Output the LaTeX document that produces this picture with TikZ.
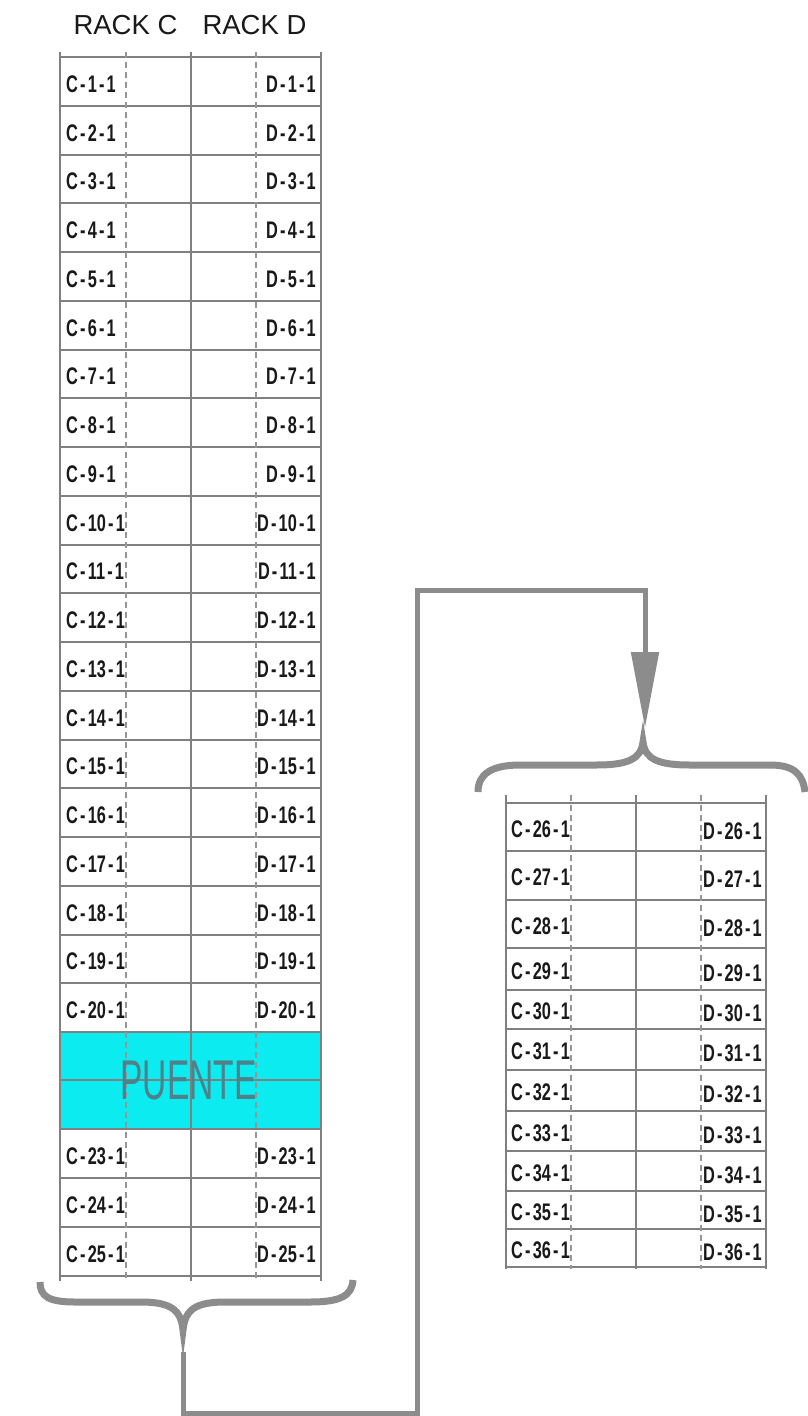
\documentclass[tikz,border=0pt]{standalone}
\usepackage{fontspec}
\setmainfont{Liberation Sans}
\newfontfamily\cellfont[FakeStretch=0.68]{Liberation Sans}
\newfontfamily\puentefont[FakeStretch=0.6]{Liberation Sans}
\usetikzlibrary{arrows.meta}
\definecolor{gridgray}{RGB}{128,128,128}
\definecolor{dashgray}{RGB}{150,150,150}
\definecolor{bracegray}{RGB}{140,140,140}
\definecolor{puentecyan}{RGB}{12,236,240}
\definecolor{puentetext}{RGB}{80,128,138}
\definecolor{labtext}{RGB}{25,25,25}
\newcommand{\celllab}[2]{#1\kern2.2pt-\kern2.2pt#2\kern2.2pt-\kern2.2pt1}
\begin{document}
\begin{tikzpicture}[x=1pt,y=-1pt,
  gridline/.style={draw=gridgray, line width=2pt},
  dashline/.style={draw=dashgray, line width=1.2pt, dash pattern=on 6pt off 4pt},
  clab/.style={font=\cellfont\bfseries\fontsize{24}{24}\selectfont, anchor=west, inner sep=0pt, text=labtext},
  dlab/.style={clab, anchor=east},
  title/.style={font=\fontsize{27.5}{27.5}\selectfont, inner sep=0pt, text=labtext},
  bracestyle/.style={draw=bracegray, line width=7pt},
  conn/.style={draw=bracegray, line width=5pt, line join=miter}]
\useasboundingbox (0,0) rectangle (807,1416);
\fill[white] (0,0) rectangle (807,1416);

% titles
\node[title] (rackc) at (125.5,25) {RACK C};
\node[title] (rackd) at (254.5,25) {RACK D};

% ---------- left table ----------
\fill[puentecyan] (60,1032) rectangle (321,1129);
\foreach \i [evaluate=\i as \y using 57+48.75*\i] in {0,...,20}
  \draw[gridline] (60,\y) -- (321,\y);
\foreach \y in {1080,1129,1178,1227,1276}
  \draw[gridline] (60,\y) -- (321,\y);
\foreach \x in {60,191,321}
  \draw[gridline] (\x,52) -- (\x,1281);
\foreach \x in {126,256}
  \draw[dashline] (\x,52) -- (\x,1281);

\foreach \i [evaluate=\i as \y using 57+48.75*(\i-1)+27] in {1,...,20}{
  \node[clab] (c\i) at (66,\y) {\celllab{C}{\i}};
  \node[dlab] (d\i) at (316,\y) {\celllab{D}{\i}};
}
\foreach \i/\y in {23/1156.5,24/1205.5,25/1254.5}{
  \node[clab] (c\i) at (66,\y) {\celllab{C}{\i}};
  \node[dlab] (d\i) at (316,\y) {\celllab{D}{\i}};
}
\node[font=\puentefont\fontsize{56}{56}\selectfont, text=puentetext, inner sep=0pt] (puente) at (188.5,1080) {PUENTE};

% ---------- right table ----------
\foreach \y in {803,851,900,948,990,1029,1070,1111,1151,1191,1229,1267}
  \draw[gridline] (506,\y) -- (766,\y);
\foreach \x in {506,636,766}
  \draw[gridline] (\x,795) -- (\x,1269);
\foreach \x in {571,701}
  \draw[dashline] (\x,795) -- (\x,1269);
\foreach \i/\ya/\yb in {26/803/851,27/851/900,28/900/948,29/948/990,30/990/1029,31/1029/1070,32/1070/1111,33/1111/1151,34/1151/1191,35/1191/1229,36/1229/1267}{
  \node[clab] (c\i) at (511,{(\ya+\yb)/2+2}) {\celllab{C}{\i}};
  \node[dlab] (d\i) at (762,{(\ya+\yb)/2+4}) {\celllab{D}{\i}};
}

% ---------- braces ----------
\coordinate (lbtip) at (183,1330);
\draw[bracestyle] (353,1280) .. controls (352,1296) and (340,1302) .. (310,1302)
  -- (225,1302) .. controls (195,1302) and (185,1310) .. (lbtip)
  .. controls (181,1310) and (171,1302) .. (141,1302)
  -- (75,1302) .. controls (48,1302) and (40,1296) .. (40,1282);

\coordinate (rbtip) at (643,742);
\draw[bracestyle] (805,792) .. controls (803,775) and (795,765) .. (770,765)
  -- (690,765) .. controls (660,765) and (645,760) .. (rbtip)
  .. controls (641,760) and (626,765) .. (596,765)
  -- (520,765) .. controls (490,765) and (478,775) .. (478,792);

% ---------- connector ----------
\coordinate (lstart) at (183,1352);
\coordinate (k1) at (183,1413);
\coordinate (k2) at (417,1413);
\coordinate (k3) at (417,590);
\coordinate (k4) at (645,590);
\coordinate (aend) at (645,728);
\draw[conn, -{Triangle[length=76pt,width=27pt]}] (lstart) -- (k1) -- (k2) -- (k3) -- (k4) -- (aend);
\end{tikzpicture}
\end{document}
